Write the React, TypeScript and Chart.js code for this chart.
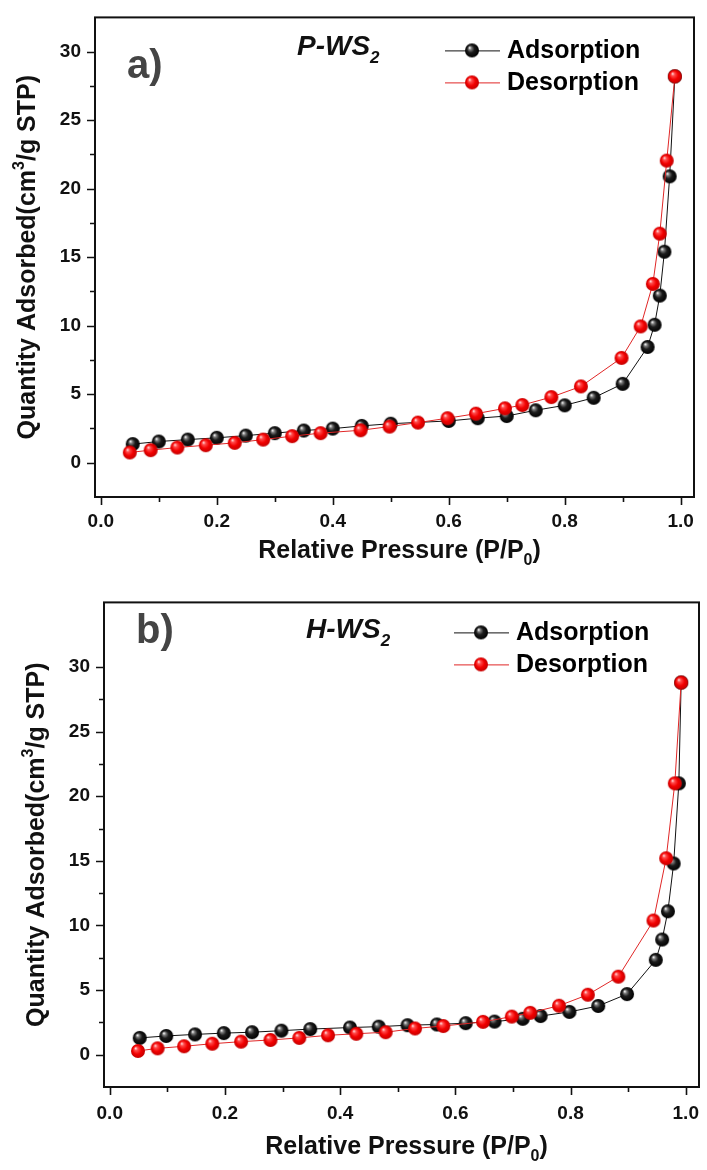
import React, { useEffect, useRef } from 'react';
import { Chart, registerables } from 'chart.js';
Chart.register(...registerables);

// ---------- data ----------
const xMajorTicks = [0, 0.2, 0.4, 0.6, 0.8, 1.0];
const xMinorTicks = [0.1, 0.3, 0.5, 0.7, 0.9];
const yMajorTicks = [0, 5, 10, 15, 20, 25, 30];
const yMinorTicks = [2.5, 7.5, 12.5, 17.5, 22.5, 27.5];

const seriesLabels = ['Adsorption', 'Desorption'];

// Panel a) P-WS2
const pAdsX = [0.055, 0.10, 0.15, 0.20, 0.25, 0.30, 0.35, 0.40, 0.45, 0.50, 0.60, 0.65, 0.70, 0.75, 0.80, 0.85, 0.90, 0.943, 0.955, 0.964, 0.972, 0.981, 0.99];
const pAdsY = [1.36, 1.55, 1.69, 1.82, 1.98, 2.16, 2.35, 2.49, 2.69, 2.85, 3.05, 3.25, 3.41, 3.83, 4.19, 4.74, 5.76, 8.45, 10.07, 12.2, 15.4, 20.9, 28.2];
const pDesX = [0.99, 0.976, 0.964, 0.952, 0.931, 0.898, 0.828, 0.777, 0.727, 0.697, 0.647, 0.598, 0.547, 0.498, 0.448, 0.379, 0.330, 0.280, 0.231, 0.181, 0.132, 0.086, 0.05];
const pDesY = [28.2, 22.05, 16.72, 13.05, 9.95, 7.65, 5.57, 4.79, 4.21, 3.97, 3.58, 3.25, 2.93, 2.64, 2.37, 2.16, 1.94, 1.69, 1.45, 1.28, 1.11, 0.92, 0.75];

// Panel b) H-WS2
const hAdsX = [0.052, 0.098, 0.148, 0.198, 0.247, 0.298, 0.348, 0.417, 0.467, 0.517, 0.568, 0.618, 0.668, 0.717, 0.748, 0.798, 0.848, 0.898, 0.948, 0.959, 0.969, 0.979, 0.988, 0.992];
const hAdsY = [1.30, 1.45, 1.57, 1.67, 1.74, 1.86, 1.98, 2.10, 2.17, 2.28, 2.34, 2.44, 2.56, 2.78, 2.99, 3.31, 3.77, 4.69, 7.34, 8.91, 11.1, 14.8, 21.0, 28.8];
const hDesX = [0.992, 0.981, 0.966, 0.944, 0.883, 0.830, 0.780, 0.730, 0.698, 0.648, 0.579, 0.530, 0.479, 0.428, 0.379, 0.329, 0.279, 0.228, 0.178, 0.129, 0.083, 0.049];
const hDesY = [28.8, 21.0, 15.2, 10.38, 6.04, 4.64, 3.79, 3.24, 2.95, 2.54, 2.22, 2.03, 1.74, 1.62, 1.50, 1.30, 1.14, 1.01, 0.85, 0.65, 0.49, 0.29];

// ---------- styling ----------
const FAMILY = "'Liberation Sans', Arial, sans-serif";
const X_MIN = -0.01;
const X_MAX = 1.023;
const Y_MIN = -2.5;
const Y_MAX = 32.5;

function sphere(kind: 'black' | 'red', r: number): HTMLCanvasElement {
  const s = Math.ceil(r * 2) + 2;
  const c = document.createElement('canvas');
  c.width = s;
  c.height = s;
  const g = c.getContext('2d')!;
  const cx = s / 2;
  const cy = s / 2;
  const grad = g.createRadialGradient(cx - r * 0.35, cy - r * 0.4, r * 0.05, cx, cy, r);
  if (kind === 'black') {
    grad.addColorStop(0, '#f4f4f4');
    grad.addColorStop(0.2, '#7a7a7a');
    grad.addColorStop(0.5, '#1c1c1c');
    grad.addColorStop(1, '#000000');
  } else {
    grad.addColorStop(0, '#ffd6d6');
    grad.addColorStop(0.22, '#ff4a4a');
    grad.addColorStop(0.6, '#f20000');
    grad.addColorStop(1, '#c40000');
  }
  g.fillStyle = grad;
  g.beginPath();
  g.arc(cx, cy, r, 0, Math.PI * 2);
  g.fill();
  return c;
}

type Part = { t: string; sub?: boolean; sup?: boolean };

function drawRich(ctx: CanvasRenderingContext2D, parts: Part[], x: number, y: number, size: number, style: string, align: 'left' | 'center', color: string) {
  const mainFont = `${style} ${size}px ${FAMILY}`;
  const smallFont = `${style} ${Math.round(size * 0.62)}px ${FAMILY}`;
  let w = 0;
  for (const p of parts) {
    ctx.font = p.sub || p.sup ? smallFont : mainFont;
    w += ctx.measureText(p.t).width;
  }
  let cx = align === 'center' ? x - w / 2 : x;
  ctx.fillStyle = color;
  ctx.textBaseline = 'middle';
  ctx.textAlign = 'left';
  for (const p of parts) {
    ctx.font = p.sub || p.sup ? smallFont : mainFont;
    const dy = p.sub ? size * 0.38 : p.sup ? -size * 0.32 : 0;
    ctx.fillText(p.t, cx, y + dy);
    cx += ctx.measureText(p.t).width;
  }
}

const near = (arr: number[], v: number) => arr.some((m) => Math.abs(m - v) < 1e-9);

const decoPlugin = {
  id: 'deco',
  afterDraw(chart: any, _args: any, opts: any) {
    const ctx: CanvasRenderingContext2D = chart.ctx;
    const { left, right, top, bottom } = chart.chartArea;
    const xs = chart.scales.x;
    const ys = chart.scales.y;
    ctx.save();
    // ticks
    ctx.strokeStyle = '#111';
    ctx.lineWidth = 1.6;
    ctx.beginPath();
    for (const v of [...xMajorTicks, ...xMinorTicks]) {
      const px = Math.round(xs.getPixelForValue(v)) + 0.5;
      const len = near(xMajorTicks, v) ? 8 : 5;
      ctx.moveTo(px, bottom);
      ctx.lineTo(px, bottom + len);
    }
    for (const v of [...yMajorTicks, ...yMinorTicks]) {
      const py = Math.round(ys.getPixelForValue(v)) + 0.5;
      const len = near(yMajorTicks, v) ? 8 : 5;
      ctx.moveTo(left, py);
      ctx.lineTo(left - len, py);
    }
    ctx.stroke();
    // frame
    ctx.lineWidth = 2;
    ctx.strokeStyle = '#111';
    ctx.strokeRect(left, top, right - left, bottom - top);

    // axis titles
    drawRich(ctx, [{ t: 'Relative Pressure (P/P' }, { t: '0', sub: true }, { t: ')' }], (left + right) / 2 + 5, bottom + opts.xTitleOffset, 25, 'bold', 'center', '#111');
    ctx.save();
    ctx.translate(left - 67, (top + bottom) / 2);
    ctx.rotate(-Math.PI / 2);
    drawRich(ctx, [{ t: 'Quantity Adsorbed(cm' }, { t: '3', sup: true }, { t: '/g STP)' }], 0, 0, 25, 'bold', 'center', '#111');
    ctx.restore();

    // panel letter and sample name
    drawRich(ctx, [{ t: opts.letter }], left + 32, top + opts.letterDy, 40, 'bold', 'left', '#444');
    drawRich(ctx, [{ t: opts.sample }, { t: '2', sub: true }], left + 202, top + opts.sampleDy, 28, 'italic bold', 'left', '#111');

    // legend
    chart.data.datasets.forEach((ds: any, i: number) => {
      const ry = top + opts.legendDy + i * 32;
      ctx.strokeStyle = ds.borderColor;
      ctx.lineWidth = 1;
      ctx.beginPath();
      ctx.moveTo(left + 350, ry + 0.5);
      ctx.lineTo(left + 405, ry + 0.5);
      ctx.stroke();
      const img = ds.pointStyle as HTMLCanvasElement;
      ctx.drawImage(img, left + 377 - img.width / 2, ry - img.height / 2);
      drawRich(ctx, [{ t: ds.label }], left + 412, ry + 1, 25, 'bold', 'left', '#000');
    });
    ctx.restore();
  },
};

function zip(xs: number[], ys: number[]) {
  return xs.map((x, i) => ({ x, y: ys[i] }));
}

type PanelProps = {
  letter: string;
  sample: string;
  adsX: number[];
  adsY: number[];
  desX: number[];
  desY: number[];
  padTop: number;
  padRight: number;
  yWidth: number;
  xHeight: number;
  yMax: number;
  xTitleOffset: number;
  xLabelPad: number;
  letterDy: number;
  sampleDy: number;
  legendDy: number;
};

function Panel(props: PanelProps) {
  const ref = useRef<HTMLCanvasElement | null>(null);
  useEffect(() => {
    if (!ref.current) return;
    const blackBall = sphere('black', 7);
    const redBall = sphere('red', 7);
    const chart = new Chart(ref.current, {
      type: 'scatter',
      data: {
        datasets: [
          {
            label: seriesLabels[0],
            data: zip(props.adsX, props.adsY),
            showLine: true,
            borderColor: '#111111',
            borderWidth: 1,
            pointStyle: blackBall as any,
            pointRadius: 7,
            order: 2,
          },
          {
            label: seriesLabels[1],
            data: zip(props.desX, props.desY),
            showLine: true,
            borderColor: '#e02626',
            borderWidth: 1,
            pointStyle: redBall as any,
            pointRadius: 7,
            order: 1,
          },
        ],
      },
      options: {
        animation: false,
        responsive: false,
        maintainAspectRatio: false,
        layout: { padding: { top: props.padTop, right: props.padRight, left: 0, bottom: 0 } },
        plugins: {
          legend: { display: false },
          tooltip: { enabled: false },
          deco: {
            letter: props.letter,
            sample: props.sample,
            xTitleOffset: props.xTitleOffset,
            letterDy: props.letterDy,
            sampleDy: props.sampleDy,
            legendDy: props.legendDy,
          },
        } as any,
        scales: {
          x: {
            type: 'linear',
            min: X_MIN,
            max: X_MAX,
            afterBuildTicks: (s: any) => {
              s.ticks = [...xMajorTicks, ...xMinorTicks].sort((a, b) => a - b).map((v) => ({ value: v }));
            },
            afterFit: (s: any) => {
              s.height = props.xHeight;
            },
            ticks: {
              autoSkip: false,
              maxRotation: 0,
              padding: props.xLabelPad,
              color: '#111',
              font: { family: FAMILY, size: 19, weight: 'bold' },
              callback: (v: any) => (near(xMajorTicks, Number(v)) ? Number(v).toFixed(1) : ''),
            },
            grid: { drawOnChartArea: false, drawTicks: true, tickLength: 8, color: 'rgba(0,0,0,0)' },
            border: { display: false },
          },
          y: {
            type: 'linear',
            min: Y_MIN,
            max: props.yMax,
            afterBuildTicks: (s: any) => {
              s.ticks = [...yMajorTicks, ...yMinorTicks].sort((a, b) => a - b).map((v) => ({ value: v }));
            },
            afterFit: (s: any) => {
              s.width = props.yWidth;
            },
            ticks: {
              autoSkip: false,
              padding: 6,
              color: '#111',
              font: { family: FAMILY, size: 19, weight: 'bold' },
              callback: (v: any) => (near(yMajorTicks, Number(v)) ? String(v) : ''),
            },
            grid: { drawOnChartArea: false, drawTicks: true, tickLength: 8, color: 'rgba(0,0,0,0)' },
            border: { display: false },
          },
        },
      },
      plugins: [decoPlugin],
    } as any);
    return () => chart.destroy();
  }, []);
  return <canvas ref={ref} width={707} height={585} style={{ display: 'block', width: 707, height: 585 }} />;
}

export default function App() {
  return (
    <div style={{ position: 'absolute', left: 0, top: 0, width: 707, height: 1170, background: '#fff' }}>
      <Panel letter="a)" sample="P-WS" adsX={pAdsX} adsY={pAdsY} desX={pDesX} desY={pDesY}
        padTop={15} padRight={13} yWidth={95} xHeight={88} yMax={Y_MAX}
        xTitleOffset={54} xLabelPad={5} letterDy={50} sampleDy={30} legendDy={33} />
      <Panel letter="b)" sample="H-WS" adsX={hAdsX} adsY={hAdsY} desX={hDesX} desY={hDesY}
        padTop={11} padRight={4} yWidth={104} xHeight={83} yMax={35}
        xTitleOffset={60} xLabelPad={7} letterDy={30} sampleDy={28} legendDy={30} />
    </div>
  );
}
